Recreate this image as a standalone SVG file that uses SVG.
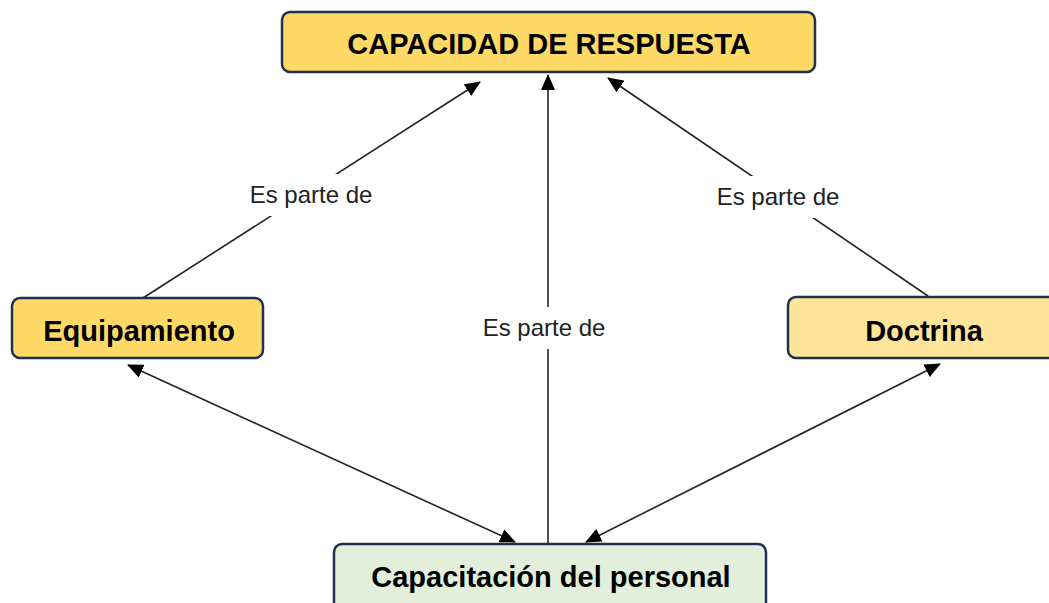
<svg xmlns="http://www.w3.org/2000/svg" width="1049" height="603" viewBox="0 0 1049 603">
<style>
.box{stroke:#1f3050;stroke-width:2.5}
.t{font-family:"Liberation Sans",Arial,sans-serif;font-weight:bold;fill:#000;text-anchor:middle;font-size:29px}
.lbl{font-family:"Liberation Sans",Arial,sans-serif;font-size:24px;fill:#222;text-anchor:middle}
.ln{stroke:#222;stroke-width:1.6;fill:none}
</style>
<defs>
<marker id="ah" markerWidth="16" markerHeight="14" refX="15" refY="7" orient="auto-start-reverse" markerUnits="userSpaceOnUse">
<path d="M0,0 L16,7 L0,14 Z" fill="#000"/>
</marker>
</defs>
<rect width="1049" height="603" fill="#fff"/>
<g id="connectors">
<line class="ln" x1="143" y1="298" x2="480" y2="82" marker-end="url(#ah)"/>
<line class="ln" x1="548" y1="544" x2="548" y2="75" marker-end="url(#ah)"/>
<line class="ln" x1="928" y1="296" x2="608" y2="78" marker-end="url(#ah)"/>
<line class="ln" x1="128" y1="365" x2="515" y2="542" marker-start="url(#ah)" marker-end="url(#ah)"/>
<line class="ln" x1="940" y1="364" x2="586" y2="542" marker-start="url(#ah)" marker-end="url(#ah)"/>
<rect x="242" y="174" width="140" height="42" fill="#fff"/>
<text class="lbl" x="311" y="203">Es parte de</text>
<rect x="474" y="307" width="140" height="42" fill="#fff"/>
<text class="lbl" x="544" y="336">Es parte de</text>
<rect x="708" y="176" width="140" height="42" fill="#fff"/>
<text class="lbl" x="778" y="205">Es parte de</text>
</g>
<g id="capacidad">
<rect class="box" x="282" y="12" width="533" height="60" rx="8" fill="#ffd966"/>
<text class="t" x="549" y="54">CAPACIDAD DE RESPUESTA</text>
</g>
<g id="equipamiento">
<rect class="box" x="12" y="298" width="251" height="60" rx="8" fill="#ffd966"/>
<text class="t" x="139" y="341">Equipamiento</text>
</g>
<g id="doctrina">
<rect class="box" x="788" y="297" width="280" height="61" rx="8" fill="#ffe599"/>
<text class="t" x="924" y="341">Doctrina</text>
</g>
<g id="capacitacion">
<rect class="box" x="334" y="544" width="432" height="80" rx="8" fill="#e2efda"/>
<text class="t" x="551" y="587">Capacitación del personal</text>
</g>
</svg>
